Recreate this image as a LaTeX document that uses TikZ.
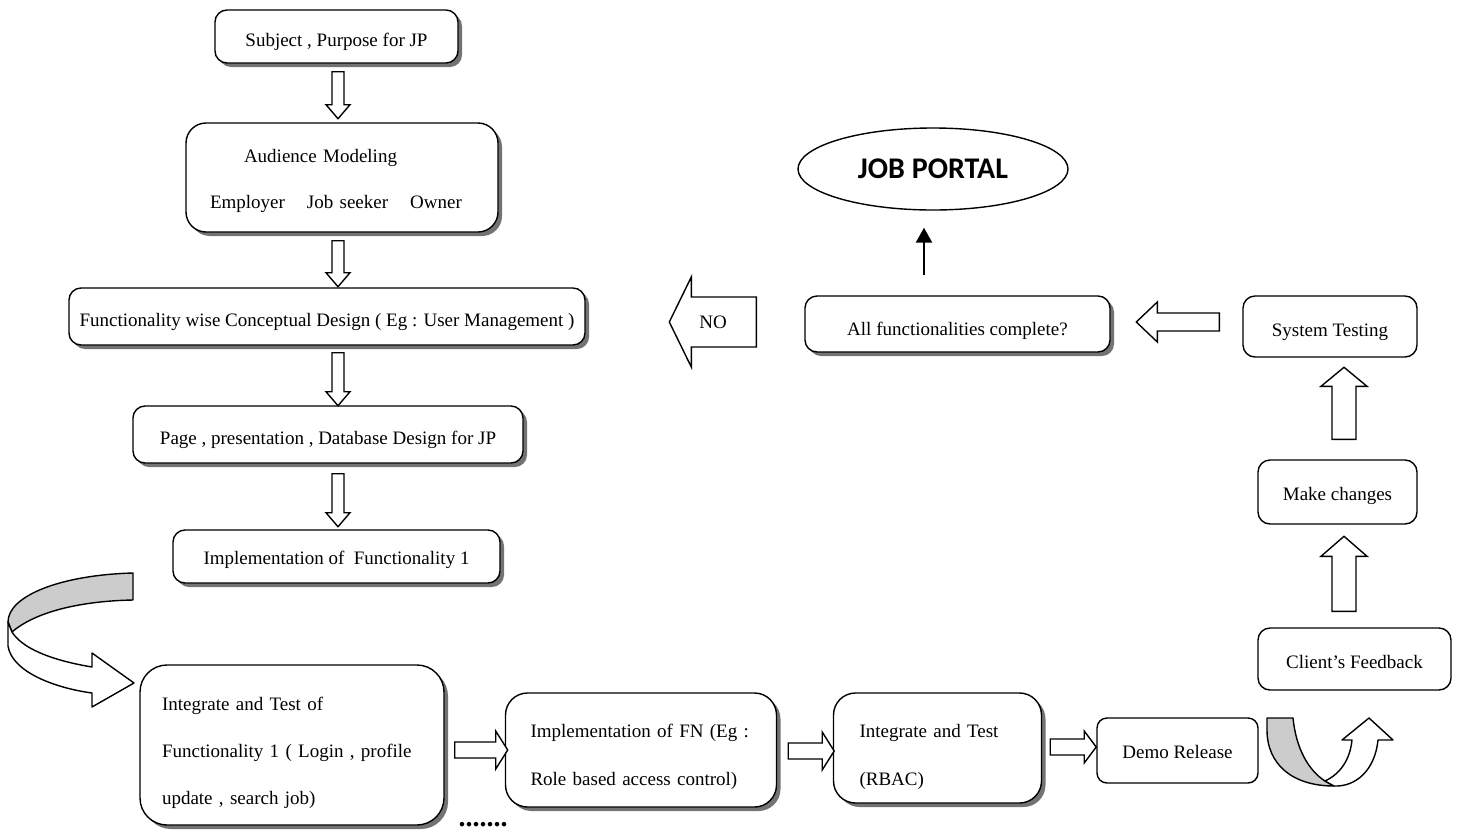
\documentclass[tikz,border=0pt]{standalone}
\usepackage{fontspec}
\setmainfont{Liberation Serif}
\newfontfamily\portalfont{Carlito}
\usetikzlibrary{shapes.geometric,shadows,calc,arrows.meta}

\tikzset{
  % hollow block arrow pointing along +x: length, shaft half width, head half width, head length
  pics/hollow/.style n args={4}{code={
    \draw[blockline] (0,-#2) -- ({#1-#4},-#2) -- ({#1-#4},-#3) -- (#1,0)
      -- ({#1-#4},#3) -- ({#1-#4},#2) -- (0,#2) -- cycle;
  }},
}

\begin{document}
\begin{tikzpicture}[x=1pt,y=-1pt,
  every node/.style={font=\fontsize{19}{23}\selectfont},
  box/.style={draw, line width=1.4pt, rounded corners=#1, fill=white, inner sep=0pt},
  box/.default=12pt,
  shbox/.style={box=#1, general shadow={fill=black!55, shadow xshift=4pt, shadow yshift=-4pt}},
  shbox/.default=12pt,
  lowtext/.style={text height=19pt, text depth=0pt},
  blockline/.style={draw, line width=1.4pt, fill=white, line join=miter},
  ribbon/.style={draw, line width=1.4pt, line join=round},
]
\useasboundingbox (0,0) rectangle (1457,836);

% ---------- left column ----------
\node[shbox, lowtext, minimum width=243pt, minimum height=53pt] (subj) at (336.5,36.5)
  {Subject , Purpose for JP};
\node[shbox=20pt, minimum width=312pt, minimum height=109pt, align=left,
      text width=264pt, inner xsep=24pt, font=\fontsize{19}{46}\selectfont] (aud) at (342,177.5)
  {\rule{0pt}{21pt}\hspace*{34pt}Audience Modeling\\Employer\hspace{22pt}Job seeker\hspace{22pt}Owner};
\node[shbox, lowtext, minimum width=516pt, minimum height=57pt] (func) at (327,316.5)
  {Functionality wise Conceptual Design ( Eg : User Management )};
\node[shbox, lowtext, minimum width=390pt, minimum height=57pt] (page) at (328,434.5)
  {Page , presentation , Database Design for JP};
\node[shbox, minimum width=327pt, minimum height=53pt, text height=16pt, text depth=0pt] (impl) at (336.5,556.5)
  {Implementation of\ \ Functionality 1};

\pic[rotate=-90] at ([xshift=1.5pt,yshift=-8pt]subj.south) {hollow={47}{6}{12}{14}};
\pic[rotate=-90] at ([xshift=-4pt,yshift=-8pt]aud.south) {hollow={46}{6}{12}{14}};
\pic[rotate=-90] at ([xshift=11pt,yshift=-7pt]func.south) {hollow={53}{6}{12}{14}};
\pic[rotate=-90] at ([xshift=10pt,yshift=-10pt]page.south) {hollow={53}{6}{12}{14}};

% ---------- bottom row ----------
\node[shbox=27pt, minimum width=304pt, minimum height=160pt, align=left,
      text width=260pt, inner xsep=22pt, font=\fontsize{19}{47}\selectfont] (integ) at (292,745)
  {\rule{0pt}{29pt}Integrate and Test of\\Functionality 1 ( Login , profile\\update , search job)};
\node[shbox=22pt, minimum width=271pt, minimum height=114pt, align=left,
      text width=221pt, inner xsep=25pt, font=\fontsize{19}{48}\selectfont] (fn) at (641,750)
  {\rule{0pt}{27pt}Implementation of FN (Eg :\\Role based access control)};
\node[shbox=22pt, minimum width=208pt, minimum height=110pt, align=left,
      text width=156pt, inner xsep=26pt, font=\fontsize{19}{48}\selectfont] (rbac) at (937.5,748)
  {\rule{0pt}{31pt}Integrate and Test\\(RBAC)};
\node[box=10pt, minimum width=161pt, minimum height=65pt, text height=15pt, text depth=0pt] (demo) at (1177.5,750.5)
  {Demo Release};
\node[font=\fontsize{28}{32}\selectfont\bfseries] (dots) at (483,825) {.......};

\pic at ([xshift=10pt,yshift=-5pt]integ.east) {hollow={53}{8}{19}{12}};
\pic at ([xshift=11pt,yshift=-1pt]fn.east) {hollow={46}{8}{19}{12}};
\pic at ([xshift=8pt,yshift=1pt]rbac.east) {hollow={46}{8}{16}{12}};

% ---------- right column ----------
\node[box, lowtext, minimum width=193pt, minimum height=62pt] (client) at (1354.5,659)
  {Client’s Feedback};
\node[box, minimum width=159pt, minimum height=64pt, text height=17pt, text depth=0pt] (make) at (1337.5,492)
  {Make changes};
\node[box, lowtext, minimum width=174pt, minimum height=61pt] (sys) at (1330,326.5)
  {System Testing};
\node[shbox, minimum width=305pt, minimum height=56pt, text height=22pt, text depth=0pt] (done) at (957.5,324)
  {All functionalities complete?};
\node[draw, line width=1.4pt, ellipse, minimum width=270pt, minimum height=82pt, inner sep=0pt,
      font=\portalfont\bfseries\fontsize{30}{34}\selectfont] (portal) at (933,169) {JOB PORTAL};

\pic[rotate=90] at ([xshift=-10.5pt,yshift=16pt]client.north) {hollow={75}{12}{23}{20}};
\pic[rotate=90] at ([xshift=6.5pt,yshift=20pt]make.north) {hollow={72}{12}{23}{19}};
\pic[rotate=180] at ([xshift=-23pt,yshift=4.5pt]sys.west) {hollow={83}{9}{20}{21}};
\pic[rotate=180] at ([xshift=-48pt,yshift=2pt]done.west) {hollow={87}{25}{45}{22}};
\node (no) at (713,322) {NO};

\draw[line width=2.6pt, -{Triangle[length=15pt,width=16pt]}]
  ([xshift=-33.5pt,yshift=20pt]done.north) -- ([xshift=-9pt,yshift=-17pt]portal.south);

% ---------- curled ribbon arrows ----------
% back face (grey) and front face of the left curl
\draw[ribbon, fill=black!20] (133,573) .. controls (60,575) and (8,596) .. (8,622)
  -- (12,632) .. controls (35,612) and (80,601) .. (133,600) -- cycle;
\draw[ribbon, fill=white] (8,622) -- (8,646) .. controls (12,672) and (55,688) .. (92,693)
  -- (92,707) -- (134,683) -- (92,653) -- (92,667)
  .. controls (50,660) and (22,648) .. (12,632) -- cycle;

% right curl turning upwards
\draw[ribbon, fill=black!20] (1267,718) -- (1293,718) .. controls (1296,748) and (1308,770) .. (1325,781)
  -- (1334,786) .. controls (1292,786) and (1267,764) .. (1267,730) -- cycle;
\draw[ribbon, fill=white] (1325,781) .. controls (1340,774) and (1350,760) .. (1352,740)
  -- (1342,740) -- (1369,718) -- (1393,740) -- (1378,740)
  .. controls (1375,770) and (1356,787) .. (1334,786) -- cycle;
\end{tikzpicture}
\end{document}
